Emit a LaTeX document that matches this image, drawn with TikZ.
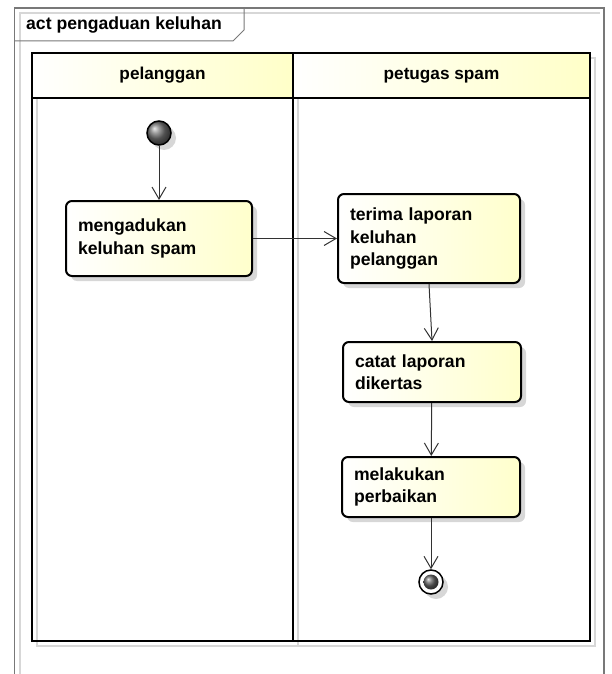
\documentclass[tikz,border=0pt]{standalone}
\usepackage{fontspec}
\setmainfont{Liberation Sans}
\usetikzlibrary{arrows.meta,shadows}
\definecolor{umlyellow}{RGB}{255,255,204}
\definecolor{laneyellow}{RGB}{255,255,200}
\definecolor{shadowgray}{RGB}{215,215,215}
\definecolor{framegray}{RGB}{120,120,120}
\definecolor{linegray}{RGB}{50,50,50}

\begin{document}
\begin{tikzpicture}[x=1pt,y=-1pt,
    umlfont/.style={font=\fontsize{17.6}{22.5}\selectfont\bfseries},
    boxshadow/.style={drop shadow={shadow xshift=5pt,shadow yshift=-5pt,fill=shadowgray,opacity=1}},
    action/.style={draw=black,line width=2pt,rounded corners=6pt,left color=white,right color=umlyellow,
        align=left,text width=#1,inner xsep=12pt,inner ysep=0pt,umlfont,boxshadow},
    lanehead/.style={draw=black,line width=2.5pt,left color=white,right color=laneyellow,
        minimum height=45pt,minimum width=#1,inner sep=0pt,font=\fontsize{17.2}{22}\selectfont\bfseries},
    startnode/.style={circle,draw=black,line width=1.5pt,ball color=black!55,minimum size=24pt,inner sep=0pt,boxshadow},
    endnode/.style={circle,draw=black,line width=1.5pt,fill=white,minimum size=24pt,inner sep=0pt,boxshadow},
    endcore/.style={circle,ball color=black!60,minimum size=15pt,inner sep=0pt},
    flow/.style={draw=linegray,line width=1pt,-{Straight Barb[length=12pt,width=14pt]}}]
    \useasboundingbox (0,0) rectangle (611,674);
    \draw [framegray, line width=1.2pt] (14.7,674) -- (14.7,8) -- (604,8) -- (604,674);
    \draw [shadowgray, line width=1.5pt] (20,674) -- (20,13) -- (600,13);
    \draw [framegray, line width=1pt] (14.7,41) -- (233,41) -- (244,30) -- (244,8);
    \node [umlfont, anchor=west, inner sep=0pt] (title) at (26,25) {act pengaduan keluhan};
    \draw [shadowgray, line width=2.5pt] (37,58) rectangle (298,646);
    \draw [shadowgray, line width=2.5pt] (298,58) rectangle (595,646);
    \node [lanehead=261pt] (lane1) at (162.5,75.5) {pelanggan};
    \node [lanehead=297pt] (lane2) at (441.5,75.5) {petugas spam};
    \draw [black, line width=2.5pt] (32,98) rectangle (293,641);
    \draw [black, line width=2.5pt] (293,98) rectangle (590,641);
    \node [startnode] (start) at (159,133) {};
    \node [action=162pt, minimum height=75pt] (mengadu) at (159,238.5) {mengadukan\\keluhan spam};
    \node [action=158pt, minimum height=89pt] (terima) at (429,238.5) {terima laporan\\keluhan\\pelanggan};
    \node [action=154pt, minimum height=60pt] (catat) at (432,372) {catat laporan\\dikertas};
    \node [action=154pt, minimum height=60pt] (perbaikan) at (431,487) {melakukan\\perbaikan};
    \node [endnode] (stop) at (431,582) {};
    \node [endcore] (stopcore) at (stop) {};
    \draw [flow] (start) -- (mengadu);
    \draw [flow] (mengadu) -- (terima);
    \draw [flow] (terima.south) -- (catat.north);
    \draw [flow] (catat) -- (perbaikan);
    \draw [flow] (perbaikan) -- (stop);
\end{tikzpicture}
\end{document}
